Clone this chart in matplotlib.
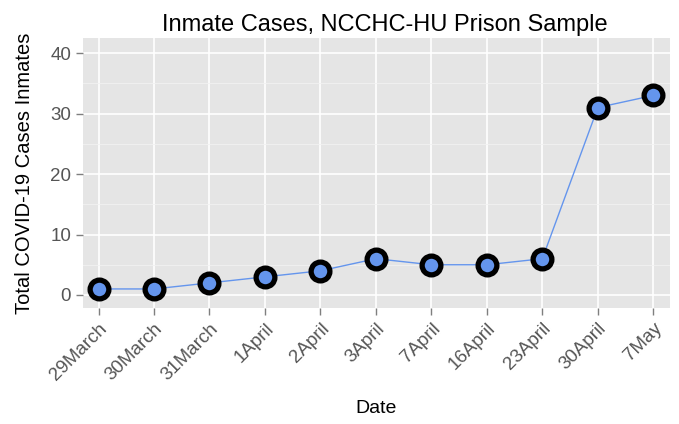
import matplotlib
matplotlib.use("Agg")
import matplotlib.pyplot as plt
from matplotlib.ticker import MultipleLocator

dates = ["29March", "30March", "31March", "1April", "2April", "3April",
         "7April", "16April", "23April", "30April", "7May"]
cases = [1, 1, 2, 3, 4, 6, 5, 5, 6, 31, 33]

plt.rcParams['font.family'] = ['Liberation Sans', 'DejaVu Sans']

fig = plt.figure(figsize=(6.79, 4.24), dpi=100)
ax = fig.add_axes([0.1222, 0.2736, 0.8645, 0.6368])
ax.set_facecolor("#e5e5e5")

x = list(range(len(dates)))
ax.plot(x, cases, '-', color="#6495ed", lw=1.0, zorder=3)
ax.plot(x, cases, 'o', ms=13.5, mfc="#6495ed", mec="black", mew=3.8, zorder=4)

ax.set_xlim(-0.28, len(dates) - 1 + 0.3)
ax.set_ylim(-2.15, 42.5)
ax.set_xticks(x)
ax.set_xticklabels(dates, rotation=45, ha='right', rotation_mode='anchor')
ax.yaxis.set_major_locator(MultipleLocator(10))
ax.yaxis.set_minor_locator(MultipleLocator(5))

ax.grid(True, which='major', color='white', lw=1.2)
ax.grid(True, which='minor', axis='y', color='#f2f2f2', lw=0.6)
ax.set_axisbelow(True)
for s in ax.spines.values():
    s.set_visible(False)

ax.tick_params(axis='both', which='major', colors='#7f7f7f', labelcolor='#555555',
               labelsize=13.5, length=5, width=1)
ax.tick_params(axis='y', which='minor', length=0)

ax.set_title("Inmate Cases, NCCHC-HU Prison Sample", fontsize=17, pad=5, x=0.515)
ax.set_xlabel("Date", fontsize=14, labelpad=12)
ax.set_ylabel("Total COVID-19 Cases Inmates", fontsize=14.5, labelpad=12)

fig.savefig("out.png", dpi=100)
